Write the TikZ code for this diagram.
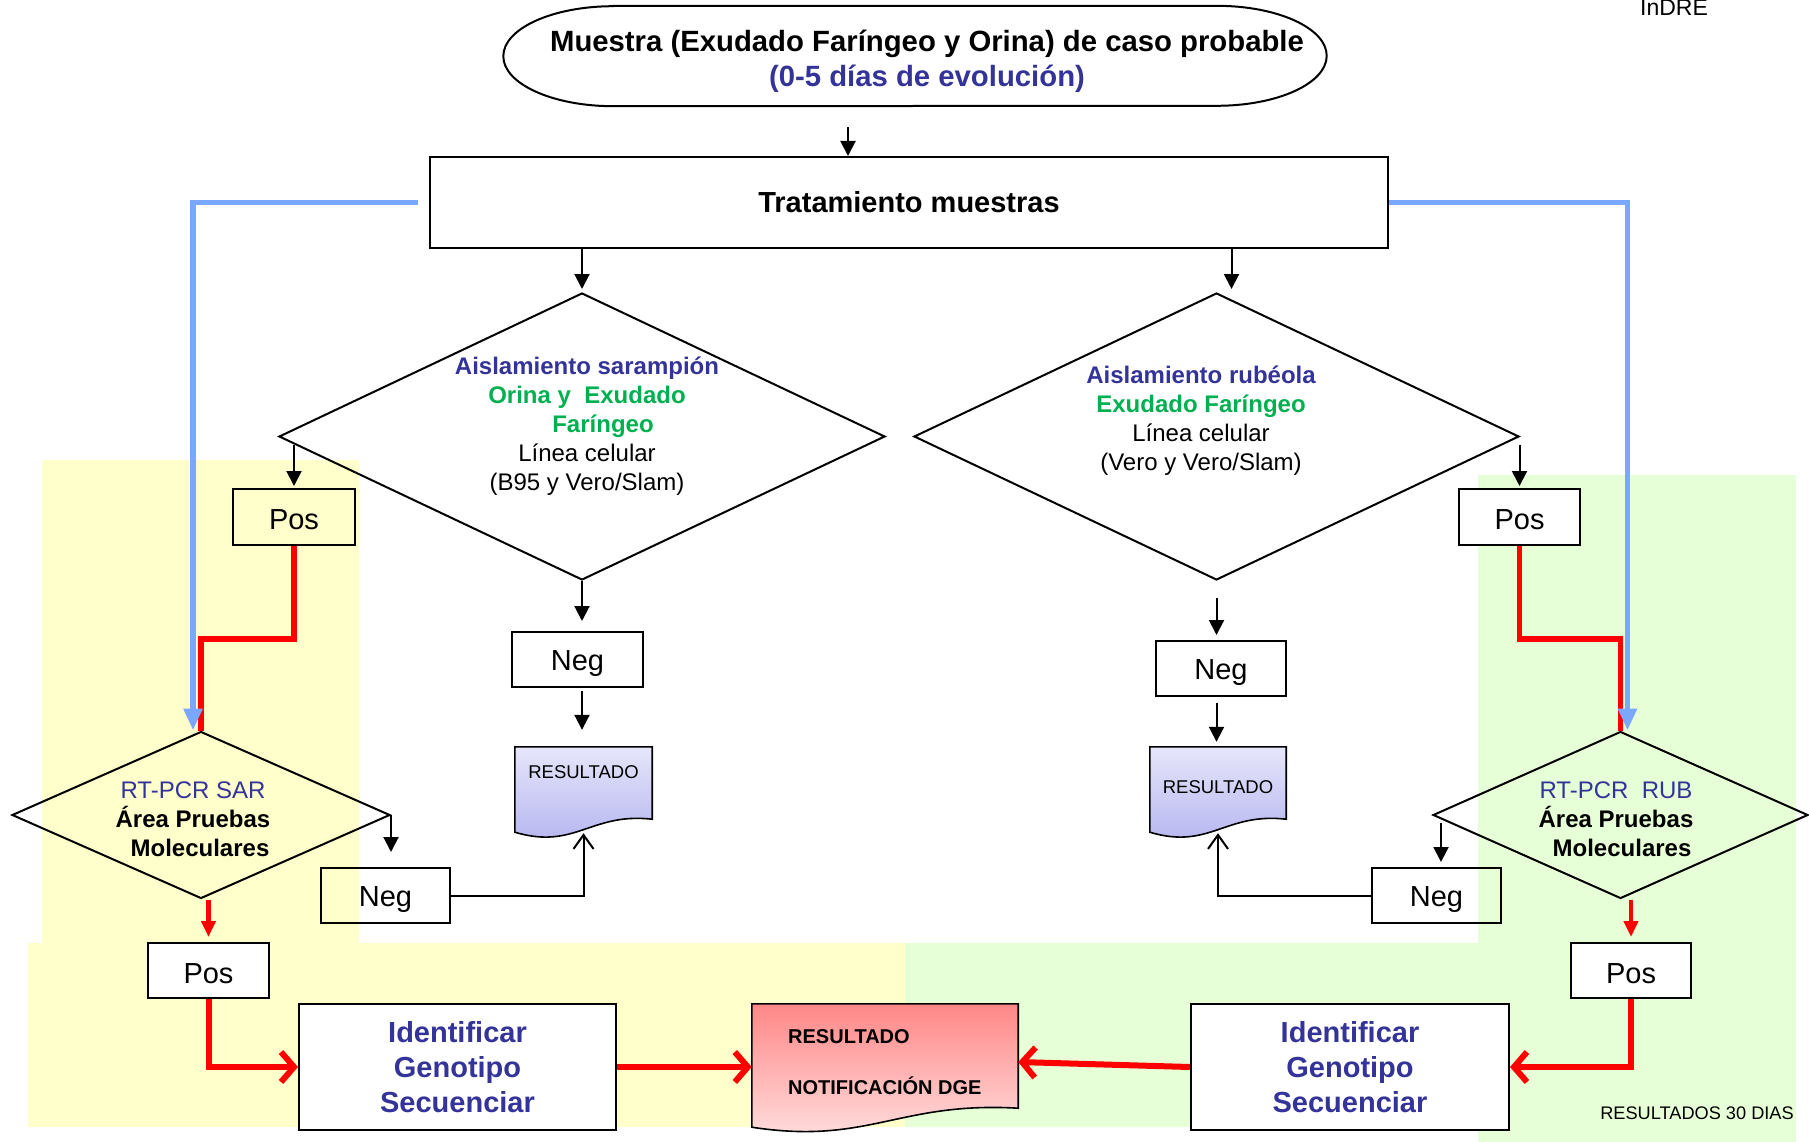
\documentclass[tikz,border=0pt]{standalone}
\usepackage{fontspec}
\setmainfont{Liberation Sans}
\usepackage{tikz}
\usetikzlibrary{shapes.geometric,arrows.meta,positioning,calc}
\definecolor{titleblue}{RGB}{51,51,153}
\definecolor{labelgreen}{RGB}{0,176,80}
\definecolor{paleyellow}{RGB}{255,255,204}
\definecolor{palegreen}{RGB}{230,255,214}
\definecolor{linkblue}{RGB}{122,167,255}
\definecolor{docblueA}{RGB}{230,230,250}
\definecolor{docblueB}{RGB}{178,178,240}
\definecolor{docredA}{RGB}{255,135,135}
\definecolor{docredB}{RGB}{255,226,226}

% document shape with a wavy bottom, drawn round a named node
\newcommand{\docshape}[4]{%
  \draw[line width=1.6pt, top color=#3, bottom color=#4]
    (#1.north west) -- (#1.north east) -- (#1.south east)
    .. controls ($(#1.south east)!0.45!(#1.south west)+(0,-7)$)
    and ($(#1.south east)!0.56!(#1.south west)+(0,#2+18)$)
    .. ($(#1.south west)+(0,#2)$) -- cycle;}

\begin{document}
\begin{tikzpicture}[x=1pt, y=-1pt,
    every node/.style={inner sep=0pt},
    bigtxt/.style={font=\fontsize{29}{35}\selectfont},
    midtxt/.style={font=\fontsize{24}{29}\selectfont, align=center},
    box/.style={rectangle, draw, line width=2pt, align=center, bigtxt},
    posbox/.style={box, text height=25pt, text depth=0pt},
    negbox/.style={box, text height=24pt, text depth=2pt},
    diam/.style={diamond, draw, line width=2pt},
    docnode/.style={rectangle},
    arr/.style={-{Triangle[length=15pt,width=15pt]}, line width=2pt},
    openarr/.style={-{Straight Barb[length=14pt,width=20pt]}, line width=2pt},
    bluearr/.style={-{Triangle[length=22pt,width=18pt]}, line width=5.5pt, linkblue},
    redline/.style={line width=5.5pt, red},
    redarr/.style={-{Triangle[length=16pt,width=14pt]}, line width=4.5pt, red},
    bigred/.style={-{Straight Barb[length=13pt,width=30pt]}, line width=6pt, red}
  ]
  \useasboundingbox (0,0) rectangle (1809,1142);

  % background areas
  \fill[paleyellow] (42,460) -- (359,460) -- (359,943) -- (905,943) -- (905,1127)
    -- (28,1127) -- (28,943) -- (42,943) -- cycle;
  \fill[palegreen] (1478,475) -- (1796,475) -- (1796,1142) -- (1478,1142) -- (1478,1127)
    -- (905,1127) -- (905,943) -- (1478,943) -- cycle;

  % top
  \node[minimum width=823pt, minimum height=100pt] (muestra) at (915,56) {};
  \draw[line width=2pt] ([xshift=110pt]muestra.north west) -- ([xshift=-110pt]muestra.north east)
    arc[start angle=90, end angle=-90, x radius=110pt, y radius=50pt]
    -- ([xshift=110pt]muestra.south west)
    arc[start angle=270, end angle=90, x radius=110pt, y radius=50pt] -- cycle;
  \node[align=center, font=\fontsize{29.3}{35}\selectfont\bfseries] (muestraTxt) at (927,61)
    {Muestra (Exudado Faríngeo y Orina) de caso probable\\\textcolor{titleblue}{(0-5 días de evolución)}};
  \node[font=\fontsize{23}{26}\selectfont, anchor=base] (indre) at (1674,16) {InDRE};

  \node[box, font=\fontsize{29}{35}\selectfont\bfseries, minimum width=958pt, minimum height=91pt] (trat) at (909,202.5) {Tratamiento muestras};

  % isolation diamonds
  \node[diam, minimum width=606pt, minimum height=287pt] (aisSar) at (582,436.5) {};
  \node[midtxt] (aisSarTxt) at (587,426) {\textbf{\textcolor{titleblue}{Aislamiento sarampión}}\\
    \textbf{\textcolor{labelgreen}{Orina y\ \ Exudado}}\\
    \hspace*{32pt}\textbf{\textcolor{labelgreen}{Faríngeo}}\\
    Línea celular\\(B95 y Vero/Slam)};
  \node[diam, minimum width=605pt, minimum height=287pt] (aisRub) at (1216.5,436.5) {};
  \node[midtxt] (aisRubTxt) at (1201,421) {\textbf{\textcolor{titleblue}{Aislamiento rubéola}}\\
    \textbf{\textcolor{labelgreen}{Exudado Faríngeo}}\\
    Línea celular\\(Vero y Vero/Slam)};

  \node[posbox, minimum width=122pt, minimum height=56pt] (posSarT) at (294,517) {Pos};
  \node[posbox, fill=white, minimum width=121pt, minimum height=56pt] (posRubT) at (1519.5,517) {Pos};
  \node[negbox, minimum width=131pt, minimum height=55pt] (negSarT) at (577.5,659.5) {Neg};
  \node[negbox, minimum width=130pt, minimum height=55pt] (negRubT) at (1221,668.5) {Neg};

  % results of isolation
  \node[docnode, minimum width=137pt, minimum height=72pt] (resSar) at (583.5,783) {};
  \docshape{resSar}{13}{docblueA}{docblueB}
  \node[font=\fontsize{18.5}{22}\selectfont] (resSarTxt) at (583.5,772) {RESULTADO};
  \node[docnode, minimum width=136pt, minimum height=72pt] (resRub) at (1218,783) {};
  \docshape{resRub}{13}{docblueA}{docblueB}
  \node[font=\fontsize{18.5}{22}\selectfont] (resRubTxt) at (1218,787) {RESULTADO};

  % RT-PCR diamonds
  \node[diam, minimum width=378pt, minimum height=167pt] (rtSar) at (201,815) {};
  \node[midtxt] (rtSarTxt) at (193,819) {\textcolor{titleblue}{RT-PCR SAR}\\
    \textbf{Área Pruebas}\\\hspace*{14pt}\textbf{Moleculares}};
  \node[diam, minimum width=375pt, minimum height=167pt] (rtRub) at (1620.5,815) {};
  \node[midtxt] (rtRubTxt) at (1616,819) {\textcolor{titleblue}{RT-PCR\ \ RUB}\\
    \textbf{Área Pruebas}\\\hspace*{12pt}\textbf{Moleculares}};

  \node[negbox, minimum width=129pt, minimum height=55pt] (negSarB) at (385.5,895.5) {Neg};
  \node[negbox, minimum width=129pt, minimum height=55pt] (negRubB) at (1436.5,895.5) {Neg};
  \node[posbox, fill=white, minimum width=121pt, minimum height=55pt] (posSarB) at (208.5,970.5) {Pos};
  \node[posbox, fill=white, minimum width=120pt, minimum height=55pt] (posRubB) at (1631,970.5) {Pos};

  % bottom row
  \node[box, fill=white, font=\fontsize{29}{35}\selectfont\bfseries, text=titleblue,
    minimum width=317pt, minimum height=126pt] (identSar) at (457.5,1067) {Identificar\\Genotipo\\Secuenciar};
  \node[box, fill=white, font=\fontsize{29}{35}\selectfont\bfseries, text=titleblue,
    minimum width=318pt, minimum height=126pt] (identRub) at (1350,1067) {Identificar\\Genotipo\\Secuenciar};
  \node[docnode, minimum width=266pt, minimum height=104pt] (resDGE) at (885,1056) {};
  \docshape{resDGE}{19}{docredA}{docredB}
  \node[font=\fontsize{20}{51}\selectfont\bfseries, align=left, anchor=west] (resDGETxt) at (788,1062)
    {RESULTADO\\NOTIFICACIÓN DGE};
  \node[font=\fontsize{18.2}{20}\selectfont] (res30) at (1697,1113) {RESULTADOS 30 DIAS};

  % connectors
  \draw[arr, shorten <=21pt] ([xshift=-67pt]muestra.south) -- ([xshift=-61pt]trat.north);
  \draw[arr, shorten >=3pt] (aisSar.north |- trat.south) -- (aisSar.north);
  \draw[arr, shorten >=3pt] ([xshift=15pt]aisRub.north |- trat.south) -- ([xshift=15pt]aisRub.north);

  \draw[redline] (posSarT.south) -- ++(0,93) -| (rtSar.north);
  \draw[redline] (posRubT.south) -- ++(0,93) -| (rtRub.north);
  \draw[bluearr, shorten <=11pt] (trat.west) -| ([xshift=-8pt]rtSar.north);
  \draw[bluearr] (trat.east) -| ([xshift=7pt]rtRub.north);

  \draw[arr, shorten <=8pt, shorten >=2pt] (posSarT.north |- aisSar.west) -- (posSarT.north);
  \draw[arr, shorten <=8pt, shorten >=2pt] (posRubT.north |- aisRub.east) -- (posRubT.north);
  \draw[arr, shorten >=10pt] (aisSar.south) -- (aisSar.south |- negSarT.north);
  \draw[arr, shorten <=3pt, shorten >=17pt] (aisSar.south |- negSarT.south) -- (aisSar.south |- resSar.north);
  \draw[arr, shorten <=17pt, shorten >=5pt] (aisRub.south) -- (aisRub.south |- negRubT.north);
  \draw[arr, shorten <=6pt, shorten >=5pt] (aisRub.south |- negRubT.south) -- (aisRub.south |- resRub.north);

  \draw[arr, shorten >=15pt] (rtSar.east) -- (rtSar.east |- negSarB.north);
  \draw[arr, shorten >=5pt] ([shift={(9pt,-8pt)}]rtRub.west) -- ([xshift=9pt]rtRub.west |- negRubB.north);
  \draw[openarr] (negSarB.east) -| ([yshift=-14pt]resSar.south);
  \draw[openarr] (negRubB.west) -| ([yshift=-14pt]resRub.south);

  \draw[redarr, shorten >=5pt] (posSarB.north |- rtSar.south) -- (posSarB.north);
  \draw[redarr, shorten >=5pt] (posRubB.north |- rtRub.south) -- (posRubB.north);
  \draw[bigred] (posSarB.south) |- (identSar.west);
  \draw[bigred] (posRubB.south) |- (identRub.east);
  \draw[bigred] (identSar.east) -- (identSar.east -| resDGE.west);
  \draw[bigred] (identRub.west) -- ([yshift=-6pt]resDGE.east);
\end{tikzpicture}
\end{document}
